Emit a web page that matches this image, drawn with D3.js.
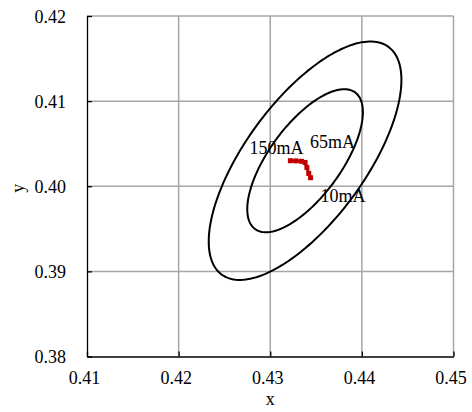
<!DOCTYPE html>
<html>
<head>
<meta charset="utf-8">
<script src="https://cdn.jsdelivr.net/npm/d3@7/dist/d3.min.js"></script>
<style>
  html, body { margin: 0; padding: 0; background: #fff; }
  svg { display: block; }
  text { font-family: "Liberation Serif", "Times New Roman", serif; fill: #000; }
</style>
</head>
<body>
<svg id="chart" width="472" height="412"></svg>
<script>
// ---- data ----
const xTicks = [0.41, 0.42, 0.43, 0.44, 0.45];
const yTicks = [0.38, 0.39, 0.40, 0.41, 0.42];
const xTickLabels = ["0.41", "0.42", "0.43", "0.44", "0.45"];
const yTickLabels = ["0.38", "0.39", "0.40", "0.41", "0.42"];

// MacAdam-type ellipses: step counts, common centre, per-step semi-axes, rotation (deg)
const ellipseSteps = [3, 5];
const ellipseCenter = [0.4338, 0.4030];
const ellipseAxesPerStep = [0.003237, 0.001338];
const ellipseAngleDeg = [56.6];

// chromaticity shift vs drive current
const currents = [150, 125, 100, 65, 40, 20, 10];
const shiftX = [0.4322, 0.4328, 0.4334, 0.4338, 0.4340, 0.4342, 0.4344];
const shiftY = [0.4030, 0.40298, 0.40293, 0.4028, 0.4022, 0.4015, 0.4010];
const labelCurrents = [150, 65, 10];
const labelTexts = ["150mA", "65mA", "10mA"];
const labelDx = [-41, 5, 10];
const labelDy = [-7, -14, 24];

// ---- layout ----
const FS = 18;
const svg = d3.select("#chart");
const L = 87, R = 453.5, T = 16, B = 356.5;
const x = d3.scaleLinear().domain([0.41, 0.45]).range([L, R]);
const y = d3.scaleLinear().domain([0.38, 0.42]).range([B, T]);

// gridlines
const grid = svg.append("g");
grid.selectAll("line.v").data(xTicks.slice(1)).join("line")
  .attr("x1", d => x(d)).attr("x2", d => x(d))
  .attr("y1", T).attr("y2", B)
  .attr("stroke", "#a6a6a6").attr("stroke-width", 1.5);
grid.selectAll("line.h").data(yTicks.slice(1)).join("line")
  .attr("x1", L).attr("x2", R)
  .attr("y1", d => y(d)).attr("y2", d => y(d))
  .attr("stroke", "#a6a6a6").attr("stroke-width", 1.5);

// axes
const xAxis = d3.axisBottom(x).tickValues(xTicks).tickFormat((d, i) => xTickLabels[i])
  .tickSizeInner(-5).tickSizeOuter(0).tickPadding(12);
const yAxis = d3.axisLeft(y).tickValues(yTicks).tickFormat((d, i) => yTickLabels[i])
  .tickSizeInner(-5).tickSizeOuter(0).tickPadding(26);

const gx = svg.append("g").attr("transform", `translate(0,${B})`).call(xAxis);
const gy = svg.append("g").attr("transform", `translate(${L},0)`).call(yAxis);
[gx, gy].forEach(g => {
  g.select(".domain").attr("stroke", "#000").attr("stroke-width", 1.3);
  g.selectAll(".tick line").attr("stroke", "#000").attr("stroke-width", 1.3);
  g.selectAll(".tick text").attr("font-family", '"Liberation Serif", "Times New Roman", serif')
    .attr("font-size", FS).attr("fill", "#000");
});
gx.selectAll(".tick text").attr("dx", -3).attr("y", 15).attr("dy", "0.71em");
gy.selectAll(".tick text").attr("x", -21).attr("dy", "0.34em");

// axis titles
svg.append("text").attr("x", (L + R) / 2).attr("y", 405)
  .attr("text-anchor", "middle").attr("font-size", FS).text("x");
svg.append("text").attr("transform", `translate(24,${(T + B) / 2 + 2}) rotate(-90)`)
  .attr("text-anchor", "middle").attr("font-size", FS).text("y");

// ellipses
const th = ellipseAngleDeg[0] * Math.PI / 180;
const ellLine = d3.line().x(p => x(p[0])).y(p => y(p[1])).curve(d3.curveLinearClosed);
ellipseSteps.forEach(n => {
  const a = ellipseAxesPerStep[0] * n, b = ellipseAxesPerStep[1] * n;
  const pts = d3.range(0, 360, 2).map(deg => {
    const t = deg * Math.PI / 180;
    return [
      ellipseCenter[0] + a * Math.cos(th) * Math.cos(t) - b * Math.sin(th) * Math.sin(t),
      ellipseCenter[1] + a * Math.sin(th) * Math.cos(t) + b * Math.cos(th) * Math.sin(t)
    ];
  });
  svg.append("path").attr("d", ellLine(pts)).attr("fill", "none")
    .attr("stroke", "#000").attr("stroke-width", 2);
});

// shift series
const series = currents.map((c, i) => ({ c, x: shiftX[i], y: shiftY[i] }));
svg.append("path")
  .attr("d", d3.line().x(d => x(d.x)).y(d => y(d.y))(series))
  .attr("fill", "none").attr("stroke", "#c00000").attr("stroke-width", 3)
  .attr("stroke-linejoin", "round");
svg.selectAll("rect.m").data(series).join("rect")
  .attr("x", d => x(d.x) - 2.5).attr("y", d => y(d.y) - 2.5)
  .attr("width", 5).attr("height", 5).attr("fill", "#c00000");

// labels
labelCurrents.forEach((c, i) => {
  const d = series.find(s => s.c === c);
  svg.append("text").attr("x", x(d.x) + labelDx[i]).attr("y", y(d.y) + labelDy[i])
    .attr("font-size", FS).text(labelTexts[i]);
});
</script>
</body>
</html>
